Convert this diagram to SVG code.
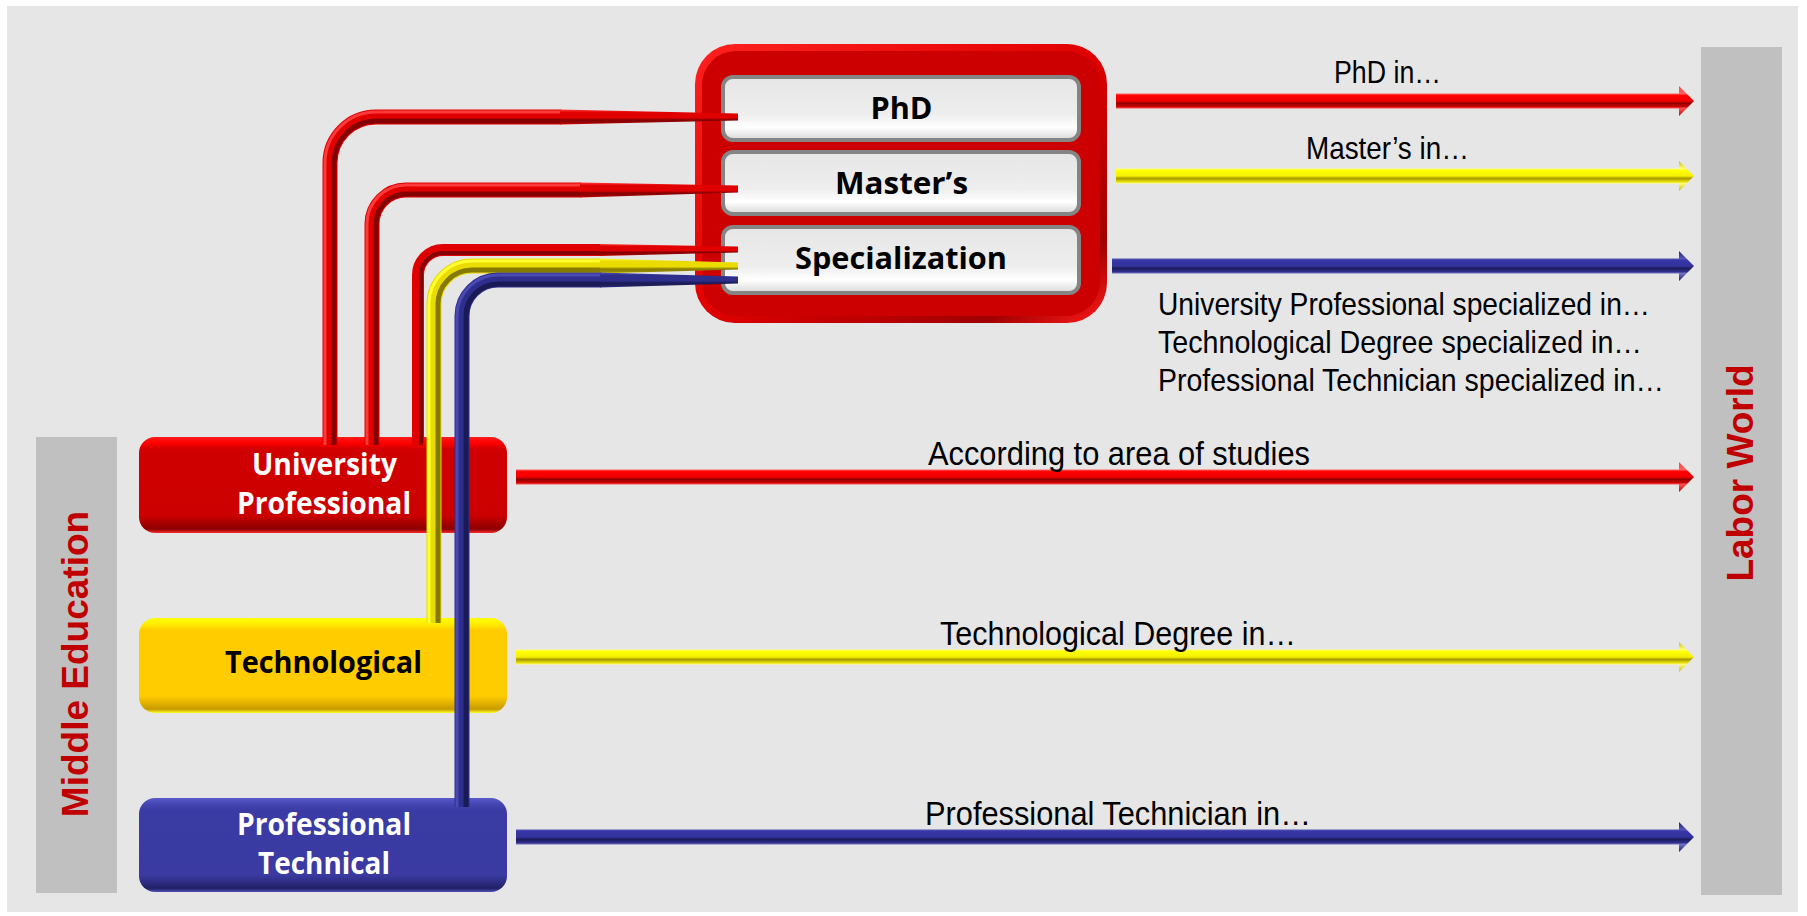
<svg xmlns="http://www.w3.org/2000/svg" width="1807" height="916" viewBox="0 0 1807 916">
<style>
.nodeTxtW{font-family:"Open Sans","Liberation Sans",sans-serif;font-weight:700;font-size:31px;fill:#ffffff;text-anchor:middle}
.nodeTxtB{font-family:"Open Sans","Liberation Sans",sans-serif;font-weight:700;font-size:31px;fill:#000000;text-anchor:middle}
.lbl{font-family:"Liberation Sans",Arial,sans-serif;font-size:32px;fill:#000000}
.lbl2{font-family:"Liberation Sans",Arial,sans-serif;font-size:34px;fill:#000000}
.side{font-family:"Liberation Sans",Arial,sans-serif;font-weight:700;font-size:37px;fill:#c00000;text-anchor:middle}
.bar{fill:#c0c0c0}
.wbox{fill:url(#gWhite);stroke:#858585;stroke-width:4}
.rMain{fill:none;stroke:#e00000;stroke-width:15}
.rDark{fill:none;stroke:#850000;stroke-width:5}
.rLight{fill:none;stroke:#ff3a3a;stroke-width:3}
.yMain{fill:none;stroke:#eadb00;stroke-width:15}
.yDark{fill:none;stroke:#857a00;stroke-width:5}
.yLight{fill:none;stroke:#ffff30;stroke-width:3}
.bMain{fill:none;stroke:#2e2e8c;stroke-width:15}
.bDark{fill:none;stroke:#1a1a55;stroke-width:5}
.bLight{fill:none;stroke:#4a4ab4;stroke-width:3}
.tR{fill:url(#gTapR)}
.tY{fill:url(#gTapY)}
.tB{fill:url(#gTapB)}
</style>
<defs>
<linearGradient id="gRedA" x1="0" y1="0" x2="0" y2="1">
<stop offset="0" stop-color="#ff4040"/><stop offset="0.25" stop-color="#ff6060"/><stop offset="0.32" stop-color="#ff0000"/><stop offset="0.5" stop-color="#f00000"/><stop offset="0.58" stop-color="#8f0000"/><stop offset="0.68" stop-color="#cc0000"/><stop offset="0.75" stop-color="#ff5050"/><stop offset="1" stop-color="#cc0000"/>
</linearGradient>
<linearGradient id="gYelA" x1="0" y1="0" x2="0" y2="1">
<stop offset="0" stop-color="#c8c000"/><stop offset="0.25" stop-color="#ffff70"/><stop offset="0.32" stop-color="#ffff00"/><stop offset="0.5" stop-color="#f4f000"/><stop offset="0.58" stop-color="#a89800"/><stop offset="0.68" stop-color="#e0d800"/><stop offset="0.75" stop-color="#ffff70"/><stop offset="1" stop-color="#c8c000"/>
</linearGradient>
<linearGradient id="gBluA" x1="0" y1="0" x2="0" y2="1">
<stop offset="0" stop-color="#202070"/><stop offset="0.25" stop-color="#5555b5"/><stop offset="0.32" stop-color="#3535a5"/><stop offset="0.5" stop-color="#33339c"/><stop offset="0.58" stop-color="#1c1c5c"/><stop offset="0.68" stop-color="#2c2c88"/><stop offset="0.75" stop-color="#7070c4"/><stop offset="1" stop-color="#202070"/>
</linearGradient>
<linearGradient id="gTapR" x1="0" y1="0" x2="0" y2="1">
<stop offset="0" stop-color="#ff3a3a"/><stop offset="0.2" stop-color="#e00000"/><stop offset="0.55" stop-color="#e00000"/><stop offset="0.7" stop-color="#850000"/><stop offset="0.88" stop-color="#9a0000"/><stop offset="1" stop-color="#e00000"/>
</linearGradient>
<linearGradient id="gTapY" x1="0" y1="0" x2="0" y2="1">
<stop offset="0" stop-color="#ffff30"/><stop offset="0.2" stop-color="#eadb00"/><stop offset="0.55" stop-color="#eadb00"/><stop offset="0.7" stop-color="#857a00"/><stop offset="0.88" stop-color="#9a8e00"/><stop offset="1" stop-color="#eadb00"/>
</linearGradient>
<linearGradient id="gTapB" x1="0" y1="0" x2="0" y2="1">
<stop offset="0" stop-color="#4a4ab4"/><stop offset="0.2" stop-color="#2e2e8c"/><stop offset="0.55" stop-color="#2e2e8c"/><stop offset="0.7" stop-color="#1a1a55"/><stop offset="0.88" stop-color="#20205e"/><stop offset="1" stop-color="#2e2e8c"/>
</linearGradient>
<linearGradient id="gRedN" x1="0" y1="0" x2="0" y2="1">
<stop offset="0" stop-color="#ff1a1a"/><stop offset="0.06" stop-color="#ff0000"/><stop offset="0.13" stop-color="#d00000"/><stop offset="0.82" stop-color="#cc0000"/><stop offset="0.9" stop-color="#a50000"/><stop offset="0.96" stop-color="#8c0000"/><stop offset="1" stop-color="#ff2a2a"/>
</linearGradient>
<linearGradient id="gYelN" x1="0" y1="0" x2="0" y2="1">
<stop offset="0" stop-color="#ffff00"/><stop offset="0.06" stop-color="#ffee00"/><stop offset="0.13" stop-color="#ffcc00"/><stop offset="0.82" stop-color="#ffcc00"/><stop offset="0.9" stop-color="#e0b000"/><stop offset="0.96" stop-color="#c89a00"/><stop offset="1" stop-color="#ffff20"/>
</linearGradient>
<linearGradient id="gBluN" x1="0" y1="0" x2="0" y2="1">
<stop offset="0" stop-color="#5a5ac8"/><stop offset="0.06" stop-color="#4646b4"/><stop offset="0.13" stop-color="#3b3ba4"/><stop offset="0.82" stop-color="#3a3aa2"/><stop offset="0.9" stop-color="#2c2c80"/><stop offset="0.96" stop-color="#202066"/><stop offset="1" stop-color="#5050b8"/>
</linearGradient>
<linearGradient id="gWhite" x1="0" y1="0" x2="0" y2="1">
<stop offset="0" stop-color="#e6e6e6"/><stop offset="0.6" stop-color="#eeeeee"/><stop offset="0.8" stop-color="#ffffff"/><stop offset="1" stop-color="#d8d8d8"/>
</linearGradient>
<linearGradient id="gBigShade" x1="0" y1="0" x2="1" y2="1">
<stop offset="0" stop-color="#ff2020"/><stop offset="0.5" stop-color="#e00000"/><stop offset="0.85" stop-color="#a00000"/><stop offset="1" stop-color="#ff1a1a"/>
</linearGradient>
</defs>

<rect x="0" y="0" width="1807" height="916" fill="#ffffff"/>
<rect id="panel" x="7" y="6" width="1791" height="906" fill="#e6e6e6"/>

<g id="middle-education">
<rect class="bar" x="36" y="437" width="81" height="456"/>
<text class="side" transform="translate(88,664) rotate(-90)">Middle Education</text>
</g>
<g id="labor-world">
<rect class="bar" x="1701" y="47" width="81" height="848"/>
<text class="side" transform="translate(1753,473) rotate(-90)">Labor World</text>
</g>

<g id="postgraduate">
<rect x="695" y="44" width="412" height="279" rx="40" fill="url(#gBigShade)"/>
<rect x="702" y="51" width="398" height="265" rx="34" fill="#cc0000"/>
</g>
<g id="phd">
<rect class="wbox" x="723" y="77" width="356" height="63" rx="10"/>
<text class="nodeTxtB" x="901.5" y="119" textLength="62" lengthAdjust="spacingAndGlyphs">PhD</text>
</g>
<g id="masters">
<rect class="wbox" x="723" y="152" width="356" height="62" rx="10"/>
<text class="nodeTxtB" x="901.5" y="194" textLength="133" lengthAdjust="spacingAndGlyphs">Master’s</text>
</g>
<g id="specialization">
<rect class="wbox" x="723" y="227" width="356" height="66" rx="10"/>
<text class="nodeTxtB" x="901" y="269" textLength="212" lengthAdjust="spacingAndGlyphs">Specialization</text>
</g>

<g id="university-professional">
<rect x="139" y="437" width="368" height="96" rx="16" fill="url(#gRedN)"/>
<text class="nodeTxtW" x="324.5" y="475" textLength="145" lengthAdjust="spacingAndGlyphs">University</text>
<text class="nodeTxtW" x="324" y="514" textLength="174" lengthAdjust="spacingAndGlyphs">Professional</text>
</g>
<g id="technological">
<rect x="139" y="618" width="368" height="95" rx="16" fill="url(#gYelN)"/>
<text class="nodeTxtB" x="323.5" y="673" textLength="197" lengthAdjust="spacingAndGlyphs">Technological</text>
</g>
<g id="professional-technical">
<rect x="139" y="798" width="368" height="94" rx="16" fill="url(#gBluN)"/>
<text class="nodeTxtW" x="324" y="835" textLength="174" lengthAdjust="spacingAndGlyphs">Professional</text>
<text class="nodeTxtW" x="324" y="874" textLength="132" lengthAdjust="spacingAndGlyphs">Technical</text>
</g>

<g id="connectors">
<!-- University Professional to PhD -->
<path class="rMain" d="M330,445 V163 A46,46 0 0 1 376,117 H561"/>
<path class="rDark" d="M334,445 V163 A42,42 0 0 1 376,121 H561"/>
<path class="rLight" d="M325,445 V163 A51,51 0 0 1 376,112 H561"/>
<polygon class="tR" points="560,109.5 738,113.5 738,120.5 560,124.5"/>
<!-- University Professional to Master's -->
<path class="rMain" d="M372,445 V224 A34,34 0 0 1 406,190 H581"/>
<path class="rDark" d="M376,445 V224 A30,30 0 0 1 406,194 H581"/>
<path class="rLight" d="M367,445 V224 A39,39 0 0 1 406,185 H581"/>
<polygon class="tR" points="580,182.5 738,185.5 738,192.5 580,197.5"/>
<!-- University Professional to Specialization -->
<path class="rMain" style="stroke-width:12" d="M418,445 V275 A25,25 0 0 1 443,250 H601"/>
<path class="rDark" style="stroke-width:4" d="M421,445 V275 A22,22 0 0 1 443,253 H601"/>
<polygon class="tR" points="600,244 738,246.5 738,252.5 600,256"/>
<!-- Technological to Specialization -->
<path class="yMain" d="M434,623 V304 A38,38 0 0 1 472,266 H601"/>
<path class="yDark" d="M438,623 V304 A34,34 0 0 1 472,270 H601"/>
<path class="yLight" d="M429,623 V304 A43,43 0 0 1 472,261 H601"/>
<polygon class="tY" points="600,258.5 738,262.5 738,269.5 600,273.5"/>
<!-- Professional Technical to Specialization -->
<path class="bMain" d="M462,807 V316 A36,36 0 0 1 498,280 H601"/>
<path class="bDark" d="M466,807 V316 A32,32 0 0 1 498,284 H601"/>
<path class="bLight" d="M457,807 V316 A41,41 0 0 1 498,275 H601"/>
<polygon class="tB" points="600,272.5 738,276.5 738,283.5 600,287.5"/>

<!-- arrows to Labor World -->
<path fill="url(#gRedA)" d="M1116,93.5 H1679 V86 L1694,101 L1679,116 V108.5 H1116 Z"/>
<path fill="url(#gYelA)" d="M1116,168.5 H1679 V161 L1694,176 L1679,191 V183.5 H1116 Z"/>
<path fill="url(#gBluA)" d="M1112,258.5 H1679 V251 L1694,266 L1679,281 V273.5 H1112 Z"/>
<path fill="url(#gRedA)" d="M516,469.5 H1679 V462 L1694,477 L1679,492 V484.5 H516 Z"/>
<path fill="url(#gYelA)" d="M516,649.5 H1679 V642 L1694,657 L1679,672 V664.5 H516 Z"/>
<path fill="url(#gBluA)" d="M516,829.5 H1679 V822 L1694,837 L1679,852 V844.5 H516 Z"/>
</g>

<g id="labels">
<text class="lbl" x="1387.5" y="83" text-anchor="middle" textLength="107" lengthAdjust="spacingAndGlyphs">PhD in…</text>
<text class="lbl" x="1387.5" y="159" text-anchor="middle" textLength="163" lengthAdjust="spacingAndGlyphs">Master’s in…</text>
<text class="lbl" x="1158" y="315" textLength="492" lengthAdjust="spacingAndGlyphs">University Professional specialized in…</text>
<text class="lbl" x="1158" y="353" textLength="484" lengthAdjust="spacingAndGlyphs">Technological Degree  specialized in…</text>
<text class="lbl" x="1158" y="391" textLength="506" lengthAdjust="spacingAndGlyphs">Professional Technician specialized in…</text>
<text class="lbl2" x="1119" y="465" text-anchor="middle" textLength="382" lengthAdjust="spacingAndGlyphs">According to area of studies</text>
<text class="lbl2" x="1118" y="645" text-anchor="middle" textLength="356" lengthAdjust="spacingAndGlyphs">Technological Degree in…</text>
<text class="lbl2" x="1118" y="825" text-anchor="middle" textLength="386" lengthAdjust="spacingAndGlyphs">Professional Technician in…</text>
</g>
</svg>
